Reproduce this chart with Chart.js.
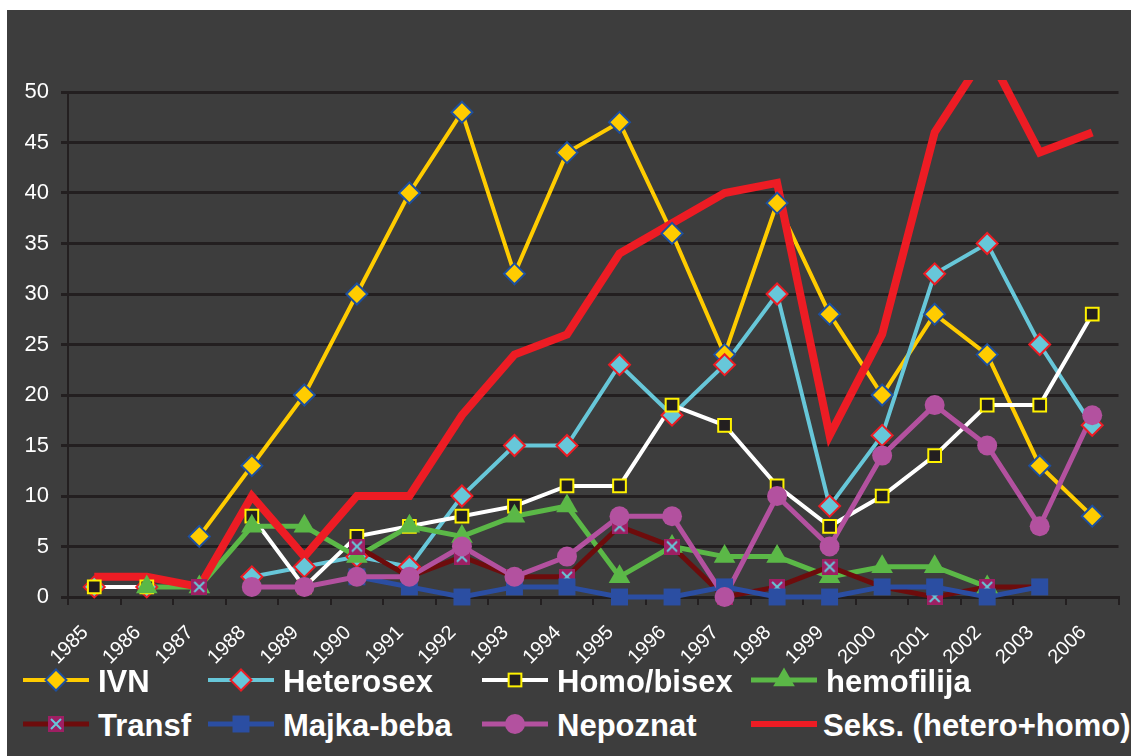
<!DOCTYPE html>
<html>
<head>
<meta charset="utf-8">
<script src="https://cdn.jsdelivr.net/npm/chart.js@4.4.0/dist/chart.umd.min.js"></script>
<style>
  html, body { margin: 0; padding: 0; background: #fff; }
  body { width: 1131px; height: 756px; position: relative; overflow: hidden; }
  #panel { position: absolute; left: 7px; top: 10px; width: 1124px; height: 746px; background: #3d3d3d; overflow: hidden; }
  #chart { position: absolute; left: 0; top: 0; }
  .lg-sample { position: absolute; }
  .lg-text { position: absolute; color: #fff; font: bold 31px "Liberation Sans", Arial, sans-serif; line-height: 31px; white-space: nowrap; }
</style>
</head>
<body>
<div id="panel">
  <canvas id="chart" width="1124" height="680"></canvas>
</div>
<script>
// ─── data ───
const years = ['1985','1986','1987','1988','1989','1990','1991','1992','1993','1994',
               '1995','1996','1997','1998','1999','2000','2001','2002','2003','2006'];

const ivn       = [null,null,6,13,20,30,40,48,32,44,47,36,24,39,28,20,28,24,13,8];
const heterosex = [1,1,null,2,3,4,3,10,15,15,23,18,23,30,9,16,32,35,25,17];
const homoBisex = [1,1,null,8,1,6,7,8,9,11,11,19,17,11,7,10,14,19,19,28];
const hemofilija= [null,1,1,7,7,4,7,6,8,9,2,5,4,4,2,3,3,1,null,null];
const transf    = [null,null,1,null,null,5,2,4,2,2,7,5,0,1,3,1,0,1,1,null];
const majkaBeba = [null,null,null,null,null,2,1,0,1,1,0,0,1,0,0,1,1,0,1,null];
const nepoznat  = [null,null,null,1,1,2,2,5,2,4,8,8,0,10,5,14,19,15,7,18];
const seks      = [2,2,1,10,4,10,10,18,24,26,34,37,40,41,16,26,46,54,44,46];

const yTicks = [0,5,10,15,20,25,30,35,40,45,50];

// ─── styles ───
const GRID = '#231f20';
const FONT = '"Liberation Sans", Arial, sans-serif';

// magenta square with a cyan cross (Transf marker)
function makeCrossMarker(size) {
  const c = document.createElement('canvas');
  c.width = size; c.height = size;
  const g = c.getContext('2d');
  g.fillStyle = '#9e1f63';
  g.fillRect(0, 0, size, size);
  g.strokeStyle = '#67c7d9';
  g.lineWidth = 2;
  g.beginPath();
  g.moveTo(3, 3); g.lineTo(size - 3, size - 3);
  g.moveTo(size - 3, 3); g.lineTo(3, size - 3);
  g.stroke();
  return c;
}
const crossMarker = makeCrossMarker(16);

const SERIES = [
  { label: 'IVN',        data: ivn,        line: '#ffcc00', width: 4, style: 'rectRot',  r: 10.5, fill: '#ffcc00', border: '#1d4f9f', bw: 2 },
  { label: 'Heterosex',  data: heterosex,  line: '#67c7d9', width: 4, style: 'rectRot',  r: 10.5, fill: '#67c7d9', border: '#ec1c24', bw: 2 },
  { label: 'Homo/bisex', data: homoBisex,  line: '#ffffff', width: 4, style: 'rect',     r: 9,    fill: '#231f20', border: '#fff200', bw: 2 },
  { label: 'hemofilija', data: hemofilija, line: '#5bb847', width: 5, style: 'triangle', r: 12.5, fill: '#5bb847', border: '#5bb847', bw: 0 },
  { label: 'Transf',     data: transf,     line: '#6d0c0c', width: 5, style: crossMarker, r: 8,   fill: '#9e1f63', border: '#9e1f63', bw: 0 },
  { label: 'Majka-beba', data: majkaBeba,  line: '#2b4ea2', width: 5, style: 'rect',     r: 12,   fill: '#2b4ea2', border: '#2b4ea2', bw: 0 },
  { label: 'Nepoznat',   data: nepoznat,   line: '#b3519f', width: 5, style: 'circle',   r: 10,   fill: '#b3519f', border: '#b3519f', bw: 0 },
  { label: 'Seks. (hetero+homo)', data: seks, line: '#ed1c24', width: 8, style: false, r: 0, fill: '#ed1c24', border: '#ed1c24', bw: 0 },
];

// lines first (later series on top), then all the markers over them
const datasets = [];
SERIES.forEach((s, i) => {
  datasets.push({
    label: s.label,
    data: s.data,
    borderColor: s.line,
    borderWidth: s.width,
    pointRadius: 0,
    pointHoverRadius: 0,
    tension: 0,
    spanGaps: false,
    borderJoinStyle: 'miter',
    clip: i === 7 ? { left: 10, top: 12, right: 10, bottom: 10 } : 6,
    order: 100 - i,
  });
});
SERIES.forEach((s, i) => {
  if (!s.style) return;
  datasets.push({
    label: s.label + ' markers',
    data: s.data,
    showLine: false,
    pointStyle: s.style,
    pointRadius: s.r,
    pointHoverRadius: s.r,
    pointBackgroundColor: s.fill,
    pointBorderColor: s.border,
    pointBorderWidth: s.bw,
    pointHoverBorderWidth: s.bw,
    clip: false,
    order: 50 - i,
  });
});

new Chart(document.getElementById('chart'), {
  type: 'line',
  data: { labels: years, datasets },
  options: {
    responsive: false,
    devicePixelRatio: 1,
    animation: false,
    events: [],
    layout: { padding: { top: 82, right: 9, left: 0, bottom: 0 } },
    plugins: { legend: { display: false }, tooltip: { enabled: false } },
    scales: {
      x: {
        type: 'category',
        offset: true,
        grid: { display: true, drawOnChartArea: false, drawTicks: true, tickLength: 8, color: GRID, lineWidth: 2, offset: true },
        border: { display: true, color: GRID, width: 3 },
        ticks: { color: '#ffffff', font: { family: FONT, size: 20 }, minRotation: 45, maxRotation: 45, autoSkip: false, padding: 16, labelOffset: -9 },
        afterFit: (s) => { s.height = 93; },
      },
      y: {
        min: 0,
        max: 50,
        afterBuildTicks: (s) => { s.ticks = yTicks.map((v) => ({ value: v })); },
        grid: { color: GRID, lineWidth: 3, tickLength: 7 },
        border: { display: true, color: GRID, width: 2 },
        ticks: { color: '#ffffff', font: { family: FONT, size: 22 }, padding: 12 },
        afterFit: (s) => { s.width = 61; },
      },
    },
  },
});

// ─── legend (html) ───
const LEGEND_COLS = [16, 201, 475, 744];   // sample left, panel coords
const LEGEND_ROWS = [670, 714];            // sample centre line
function markerSvg(s, cx, cy) {
  const st = s.style;
  if (st === 'rectRot') {
    const r = s.r;
    return `<polygon points="${cx - r},${cy} ${cx},${cy - r} ${cx + r},${cy} ${cx},${cy + r}" fill="${s.fill}" stroke="${s.border}" stroke-width="${s.bw}"/>`;
  }
  if (st === 'rect') {
    const h = s.r * Math.SQRT1_2;
    return `<rect x="${cx - h}" y="${cy - h}" width="${2 * h}" height="${2 * h}" fill="${s.fill}" stroke="${s.border}" stroke-width="${s.bw}"/>`;
  }
  if (st === 'triangle') {
    const r = s.r;
    const dx = r * Math.sin(2 * Math.PI / 3), dy = r * 0.5;
    return `<polygon points="${cx},${cy - r} ${cx + dx},${cy + dy} ${cx - dx},${cy + dy}" fill="${s.fill}"/>`;
  }
  if (st === 'circle') {
    return `<circle cx="${cx}" cy="${cy}" r="${s.r}" fill="${s.fill}"/>`;
  }
  if (st) {
    return `<rect x="${cx - 8}" y="${cy - 8}" width="16" height="16" fill="#9e1f63"/>` +
      `<path d="M${cx - 5},${cy - 5}L${cx + 5},${cy + 5}M${cx + 5},${cy - 5}L${cx - 5},${cy + 5}" stroke="#67c7d9" stroke-width="2"/>`;
  }
  return '';
}
const panel = document.getElementById('panel');
SERIES.forEach((s, i) => {
  const col = LEGEND_COLS[i % 4], row = LEGEND_ROWS[Math.floor(i / 4)];
  const svg = document.createElementNS('http://www.w3.org/2000/svg', 'svg');
  svg.setAttribute('class', 'lg-sample');
  svg.setAttribute('width', '68');
  svg.setAttribute('height', '30');
  svg.style.left = col + 'px';
  svg.style.top = (row - 15) + 'px';
  svg.innerHTML = `<line x1="0" y1="15" x2="66" y2="15" stroke="${s.line}" stroke-width="${Math.min(s.width, 6)}"/>` + markerSvg(s, 33, 15);
  panel.appendChild(svg);
  const t = document.createElement('span');
  t.className = 'lg-text';
  t.textContent = s.label;
  t.style.left = (col + (i === 7 ? 72 : 75)) + 'px';
  t.style.top = (row - 14) + 'px';
  panel.appendChild(t);
});
</script>
</body>
</html>
